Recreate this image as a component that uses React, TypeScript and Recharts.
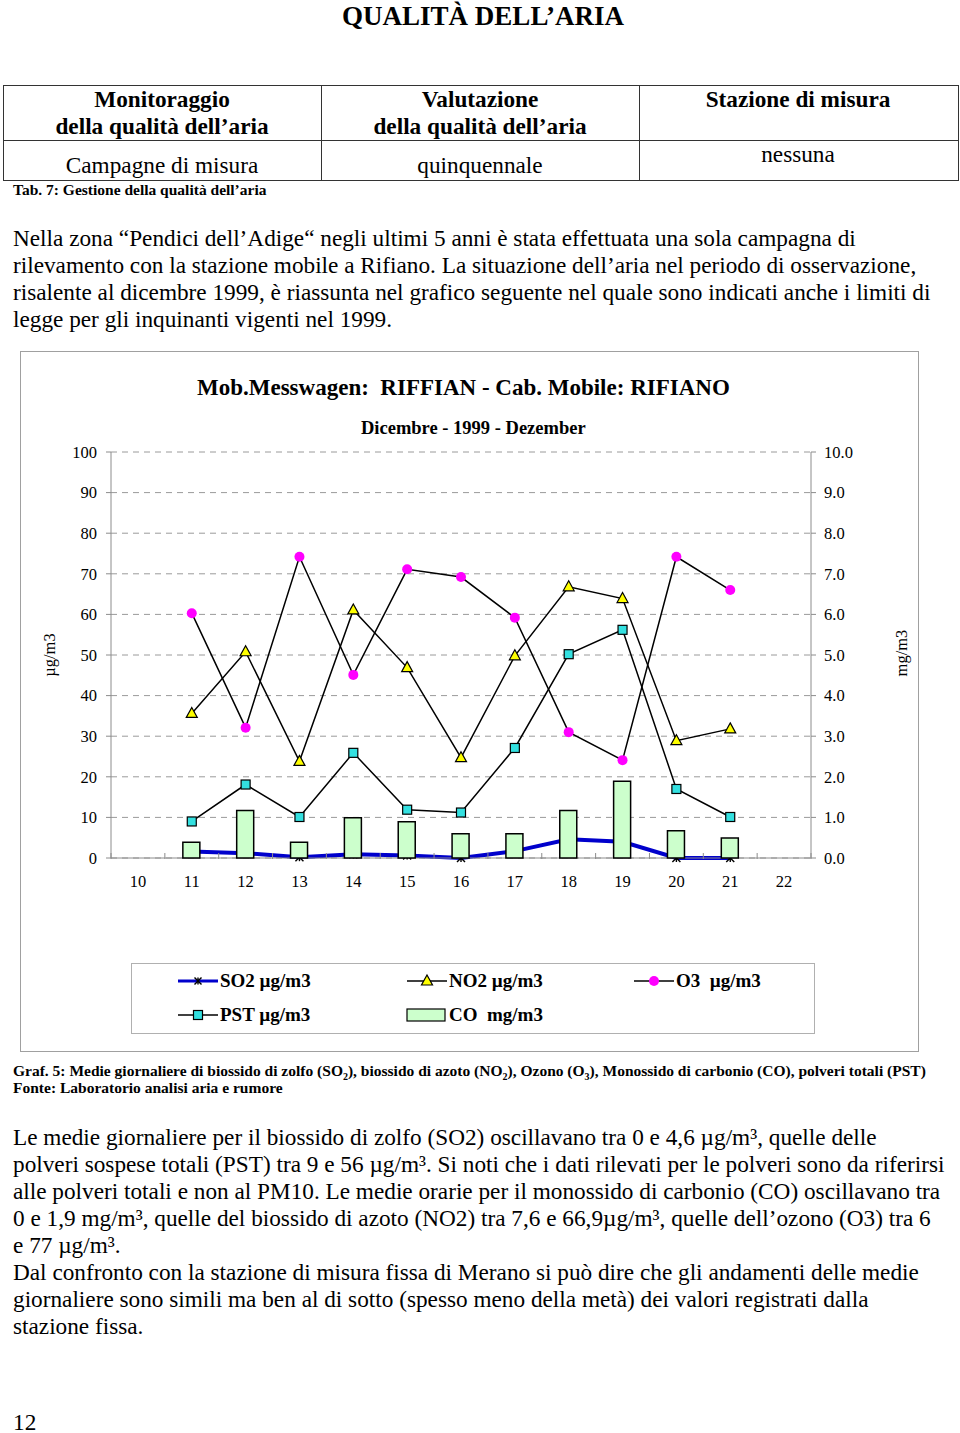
import { ComposedChart, Bar, Line, XAxis, YAxis, CartesianGrid } from 'recharts';

const days = ['10', '11', '12', '13', '14', '15', '16', '17', '18', '19', '20', '21', '22'];
const so2 = [null, 1.6, 1.2, 0.2, 0.9, 0.6, 0.0, 1.7, 4.6, 4.0, 0.0, 0.0, null];
const no2 = [null, 35.6, 50.8, 23.8, 61.1, 46.9, 24.7, 49.8, 66.8, 63.9, 28.9, 31.8, null];
const o3 = [null, 60.3, 32.1, 74.2, 45.1, 71.1, 69.2, 59.2, 31.0, 24.1, 74.2, 66.0, null];
const pst = [null, 9.0, 18.1, 10.1, 25.9, 11.9, 11.2, 27.1, 50.2, 56.2, 17.0, 10.1, null];
const co = [null, 0.39, 1.17, 0.39, 0.99, 0.89, 0.6, 0.6, 1.17, 1.89, 0.67, 0.49, null];

const leftTicks = [0, 10, 20, 30, 40, 50, 60, 70, 80, 90, 100];
const rightTicks = [0, 1, 2, 3, 4, 5, 6, 7, 8, 9, 10];

const data = days.map((day, i) => ({
  day,
  so2: so2[i],
  no2: no2[i],
  o3: o3[i],
  pst: pst[i],
  co: co[i],
}));

const SERIF = '"Liberation Serif", "Times New Roman", serif';
const AXIS = '#8c8c8c';
const PLOT_W = 700;
const X_MARGIN = 17;
const CHART_MARGIN = { top: 101, right: 47, bottom: 163, left: 31 };

const Star = ({ cx, cy, r = 4 }: { cx: number; cy: number; r?: number }) => (
  <g stroke="#000" strokeWidth={1.4}>
    <line x1={cx} x2={cx} y1={cy - r} y2={cy + r} />
    <line x1={cx - r} x2={cx + r} y1={cy - r} y2={cy + r} />
    <line x1={cx - r} x2={cx + r} y1={cy + r} y2={cy - r} />
  </g>
);

const Tri = ({ cx, cy }: { cx: number; cy: number }) => (
  <polygon
    points={`${cx},${cy - 6} ${cx + 5.5},${cy + 4} ${cx - 5.5},${cy + 4}`}
    fill="#ffff00"
    stroke="#000"
    strokeWidth={1.2}
  />
);

const Sq = ({ cx, cy }: { cx: number; cy: number }) => (
  <rect x={cx - 4.5} y={cy - 4.5} width={9} height={9} fill="#33e0e0" stroke="#000" strokeWidth={1.2} />
);

const Dot = ({ cx, cy }: { cx: number; cy: number }) => <circle cx={cx} cy={cy} r={5} fill="#ff00ff" />;

const marker = (Shape: any) => (props: any) => {
  const { cx, cy, index, value } = props;
  if (value == null || cx == null || cy == null) return <g key={index} />;
  return <Shape key={index} cx={cx} cy={cy} />;
};

const DayTick = (props: any) => {
  const { x, y, payload } = props;
  const half = payload?.offset || PLOT_W / days.length / 2;
  const axisY = y - X_MARGIN;
  return (
    <g>
      <line x1={x - half} x2={x - half} y1={axisY - 5} y2={axisY + 1} stroke={AXIS} />
      {payload.index === days.length - 1 && (
        <line x1={x + half} x2={x + half} y1={axisY - 5} y2={axisY + 1} stroke={AXIS} />
      )}
      <text x={x} y={y} dy="0.71em" textAnchor="middle" fontFamily={SERIF} fontSize={16.5} fill="#000">
        {payload.value}
      </text>
    </g>
  );
};

// same axes in both layers so the two plots line up; only the lower layer shows them
const axes = (show: boolean) => [
  <XAxis
    key="x"
    dataKey="day"
    scale="band"
    height={30}
    stroke={AXIS}
    axisLine={show}
    tickLine={false}
    tickSize={0}
    tickMargin={X_MARGIN}
    tick={show ? <DayTick /> : false}
    interval={0}
  />,
  <YAxis
    key="l"
    yAxisId="left"
    width={60}
    domain={[0, 100]}
    ticks={leftTicks}
    interval={0}
    stroke={AXIS}
    axisLine={show}
    tickLine={show}
    tickSize={5}
    tickMargin={9}
    tick={show ? { fontFamily: SERIF, fontSize: 16.5, fill: '#000' } : false}
  />,
  <YAxis
    key="r"
    yAxisId="right"
    orientation="right"
    width={60}
    domain={[0, 10]}
    ticks={rightTicks}
    interval={0}
    stroke={AXIS}
    axisLine={show}
    tickLine={show}
    tickSize={5}
    tickMargin={8}
    tickFormatter={(v: number) => v.toFixed(1)}
    tick={show ? { fontFamily: SERIF, fontSize: 16.5, fill: '#000', textAnchor: 'start' } : false}
  />,
];

const abs = (left: number, top: number, extra: any = {}) => ({
  position: 'absolute' as const,
  left,
  top,
  whiteSpace: 'nowrap' as const,
  ...extra,
});

const intro = [
  'Nella zona “Pendici dell’Adige“ negli ultimi 5 anni è stata effettuata una sola campagna di',
  'rilevamento con la stazione mobile a Rifiano. La situazione dell’aria nel periodo di osservazione,',
  'risalente al dicembre 1999, è riassunta nel grafico seguente nel quale sono indicati anche i limiti di',
  'legge per gli inquinanti vigenti nel 1999.',
];

const outro = [
  'Le medie giornaliere per il biossido di zolfo (SO2) oscillavano tra 0 e 4,6 µg/m³, quelle delle',
  'polveri sospese totali (PST) tra 9 e 56 µg/m³. Si noti che i dati rilevati per le polveri sono da riferirsi',
  'alle polveri totali e non al PM10. Le medie orarie per il monossido di carbonio (CO) oscillavano tra',
  '0 e 1,9 mg/m³, quelle del biossido di azoto (NO2) tra 7,6 e 66,9µg/m³, quelle dell’ozono (O3) tra 6',
  'e 77 µg/m³.',
  'Dal confronto con la stazione di misura fissa di Merano si può dire che gli andamenti delle medie',
  'giornaliere sono simili ma ben al di sotto (spesso meno della metà) dei valori registrati dalla',
  'stazione fissa.',
];

const LegendItem = ({ left, top, label, icon }: { left: number; top: number; label: string; icon: any }) => (
  <div style={abs(left, top, { display: 'flex', alignItems: 'center', height: 22 })}>
    <svg width={44} height={22} style={{ display: 'block' }}>
      {icon}
    </svg>
    <span style={{ fontWeight: 'bold', fontSize: 19, lineHeight: '22px', whiteSpace: 'pre' }}>{label}</span>
  </div>
);

const sub = { fontSize: 10, lineHeight: 0 };

export default function App() {
  const body = { fontSize: 23.25, lineHeight: '27px' };
  const cell = { fontSize: 23.25, lineHeight: '27px', textAlign: 'center' as const, width: 318 };
  return (
    <div
      style={{
        position: 'absolute',
        left: 0,
        top: 0,
        width: 960,
        height: 1433,
        background: '#fff',
        fontFamily: SERIF,
        color: '#000',
      }}
    >
      <div style={abs(0, 0, { width: 966, textAlign: 'center', fontWeight: 'bold', fontSize: 27, lineHeight: '32px' })}>
        QUALITÀ DELL’ARIA
      </div>

      {/* tabella */}
      <div style={abs(3, 85, { width: 954, height: 94, border: '1px solid #333' })} />
      <div style={abs(321, 85, { width: 1, height: 96, background: '#333' })} />
      <div style={abs(639, 85, { width: 1, height: 96, background: '#333' })} />
      <div style={abs(3, 140, { width: 956, height: 1, background: '#333' })} />
      <div style={abs(3, 86, { ...cell, fontWeight: 'bold' })}>
        Monitoraggio
        <br />
        della qualità dell’aria
      </div>
      <div style={abs(321, 86, { ...cell, fontWeight: 'bold' })}>
        Valutazione
        <br />
        della qualità dell’aria
      </div>
      <div style={abs(639, 86, { ...cell, fontWeight: 'bold' })}>Stazione di misura</div>
      <div style={abs(3, 152, cell)}>Campagne di misura</div>
      <div style={abs(321, 152, cell)}>quinquennale</div>
      <div style={abs(639, 141, cell)}>nessuna</div>
      <div style={abs(13, 181, { fontWeight: 'bold', fontSize: 15.5, lineHeight: '17px' })}>
        Tab. 7: Gestione della qualità dell’aria
      </div>

      {intro.map((t, i) => (
        <div key={t} style={abs(13, 225 + i * 27, body)}>
          {t}
        </div>
      ))}

      {/* grafico */}
      <div style={abs(20, 351, { width: 897, height: 699, border: '1px solid #a0a0a0' })} />
      <div style={abs(197, 374, { fontWeight: 'bold', fontSize: 23, lineHeight: '27px' })}>
        Mob.Messwagen:&nbsp; RIFFIAN - Cab. Mobile: RIFIANO
      </div>
      <div style={abs(361, 417, { fontWeight: 'bold', fontSize: 18.5, lineHeight: '22px' })}>
        Dicembre - 1999 - Dezember
      </div>
      <div
        style={abs(50, 655, {
          fontSize: 16.5,
          lineHeight: '20px',
          transform: 'translate(-50%, -50%) rotate(-90deg)',
        })}
      >
        µg/m3
      </div>
      <div
        style={abs(902, 653, {
          fontSize: 16.5,
          lineHeight: '20px',
          transform: 'translate(-50%, -50%) rotate(-90deg)',
        })}
      >
        mg/m3
      </div>

      {/* lower layer: grid, axes and the SO2 line, which the CO bars cover */}
      <div style={abs(20, 351)}>
        <ComposedChart width={898} height={700} data={data} margin={CHART_MARGIN}>
          <CartesianGrid horizontal vertical={false} stroke="#9a9a9a" strokeDasharray="6 5" yAxisId="left" />
          {axes(true)}
          <Bar yAxisId="right" dataKey="co" barSize={17} fill="none" stroke="none" isAnimationActive={false} />
          <Line
            yAxisId="left"
            dataKey="so2"
            stroke="#0000cc"
            strokeWidth={4}
            dot={marker(Star)}
            activeDot={false}
            isAnimationActive={false}
          />
        </ComposedChart>
      </div>

      {/* upper layer: CO bars and the other series */}
      <div style={abs(20, 351)}>
        <ComposedChart width={898} height={700} data={data} margin={CHART_MARGIN}>
          {axes(false)}
          <Bar
            yAxisId="right"
            dataKey="co"
            barSize={17}
            fill="#ccffcc"
            stroke="#000"
            strokeWidth={1.5}
            isAnimationActive={false}
          />
          <Line
            yAxisId="left"
            dataKey="pst"
            stroke="#000"
            strokeWidth={1.5}
            dot={marker(Sq)}
            activeDot={false}
            isAnimationActive={false}
          />
          <Line
            yAxisId="left"
            dataKey="no2"
            stroke="#000"
            strokeWidth={1.5}
            dot={marker(Tri)}
            activeDot={false}
            isAnimationActive={false}
          />
          <Line
            yAxisId="left"
            dataKey="o3"
            stroke="#000"
            strokeWidth={1.5}
            dot={marker(Dot)}
            activeDot={false}
            isAnimationActive={false}
          />
        </ComposedChart>
      </div>

      {/* legenda */}
      <div style={abs(131, 963, { width: 682, height: 69, border: '1px solid #b0b0b0' })} />
      <LegendItem
        left={176}
        top={970}
        label="SO2 µg/m3"
        icon={
          <g>
            <line x1={2} x2={42} y1={11} y2={11} stroke="#0000cc" strokeWidth={3} />
            <Star cx={22} cy={11} r={3.5} />
          </g>
        }
      />
      <LegendItem
        left={405}
        top={970}
        label="NO2 µg/m3"
        icon={
          <g>
            <line x1={2} x2={42} y1={11} y2={11} stroke="#000" strokeWidth={1.5} />
            <Tri cx={22} cy={11} />
          </g>
        }
      />
      <LegendItem
        left={632}
        top={970}
        label="O3  µg/m3"
        icon={
          <g>
            <line x1={2} x2={42} y1={11} y2={11} stroke="#000" strokeWidth={1.5} />
            <Dot cx={22} cy={11} />
          </g>
        }
      />
      <LegendItem
        left={176}
        top={1004}
        label="PST µg/m3"
        icon={
          <g>
            <line x1={2} x2={42} y1={11} y2={11} stroke="#000" strokeWidth={1.5} />
            <Sq cx={22} cy={11} />
          </g>
        }
      />
      <LegendItem
        left={405}
        top={1004}
        label="CO  mg/m3"
        icon={<rect x={2} y={5} width={38} height={12} fill="#ccffcc" stroke="#000" strokeWidth={1.2} />}
      />

      <div style={abs(13, 1062, { fontWeight: 'bold', fontSize: 15.5, lineHeight: '17px' })}>
        Graf. 5: Medie giornaliere di biossido di zolfo (SO<sub style={sub}>2</sub>), biossido di azoto (NO
        <sub style={sub}>2</sub>), Ozono (O<sub style={sub}>3</sub>), Monossido di carbonio (CO), polveri totali (PST)
        <br />
        Fonte: Laboratorio analisi aria e rumore
      </div>

      {outro.map((t, i) => (
        <div key={t} style={abs(13, 1124 + i * 27, body)}>
          {t}
        </div>
      ))}

      <div style={abs(13, 1409, body)}>12</div>
    </div>
  );
}
